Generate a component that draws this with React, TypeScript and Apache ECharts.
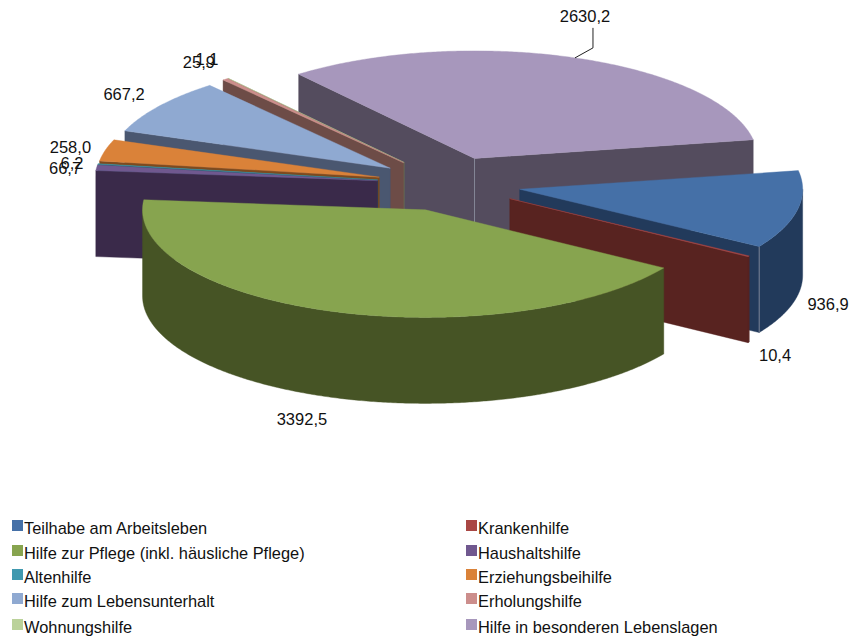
import React, { useEffect, useRef } from "react";
import * as echarts from "echarts";

const categories = [
  "Teilhabe am Arbeitsleben",
  "Krankenhilfe",
  "Hilfe zur Pflege (inkl. häusliche Pflege)",
  "Haushaltshilfe",
  "Altenhilfe",
  "Erziehungsbeihilfe",
  "Hilfe zum Lebensunterhalt",
  "Erholungshilfe",
  "Wohnungshilfe",
  "Hilfe in besonderen Lebenslagen",
];
const values = [936.9, 10.4, 3392.5, 66.7, 6.2, 258.0, 667.2, 25.9, 1.1, 2630.2];
const valueLabels = ["936,9", "10,4", "3392,5", "66,7", "6,2", "258,0", "667,2", "25,9", "1,1", "2630,2"];
const topColors = ["#4570A7", "#A94744", "#87A44F", "#70588F", "#4099AF", "#DA8239", "#8FA9D1", "#CC8E8C", "#BBD29A", "#A797BC"];
const wallColors = ["#223A5B", "#582320", "#465425", "#3A2A4A", "#1F5A68", "#7D4A1F", "#4A5770", "#6D4C47", "#6A7A55", "#544C5E"];

const drawOrder = [9, 8, 7, 6, 5, 4, 3, 0, 1, 2];
const labelOffsets = [[30.7, 94], [26.4, 98.7], [-31.3, 107.5], [-31.5, 0.2], [-25.9, -1], [-34.9, -3.3], [-35.3, -12], [-26.4, -17.2], [-21.2, -19.4], [10, -41.9]];
const legendColumnX = [12, 466];
const legendRowY = [528, 553, 577, 601, 627];

const CX = 449;
const CY = 184;
const RADIUS = 283;
const TILT = 0.38;
const EXPLODE = 72;
const DEPTH = 86;
const FIRST_ANGLE = -10;
const FONT = "'Liberation Sans', Arial, sans-serif";

const total = values.reduce((a, b) => a + b, 0);
const rad = (d: number) => (d * Math.PI) / 180;
const spans = (() => {
  let cur = FIRST_ANGLE;
  return values.map((v) => {
    const start = cur;
    cur += (v / total) * 360;
    return { start, end: cur, mid: (start + cur) / 2 };
  });
})();

function apexOf(i: number) {
  const m = rad(spans[i].mid);
  return [CX + EXPLODE * Math.cos(m), CY + EXPLODE * TILT * Math.sin(m)];
}
function rimPoint(i: number, deg: number, drop = 0) {
  const [ax, ay] = apexOf(i);
  return [ax + RADIUS * Math.cos(rad(deg)), ay + RADIUS * TILT * Math.sin(rad(deg)) + drop];
}
function arcPoints(i: number, from: number, to: number, drop = 0) {
  const n = Math.max(1, Math.ceil(Math.abs(to - from) / 0.5));
  const out: number[][] = [];
  for (let s = 0; s <= n; s++) out.push(rimPoint(i, from + ((to - from) * s) / n, drop));
  return out;
}

function renderSlice(_: any, api: any) {
  const i = api.value(0) as number;
  const { start, end } = spans[i];
  const [ax, ay] = apexOf(i);
  const wall = wallColors[i];
  const children: any[] = [];
  const poly = (points: number[][], fill: string) =>
    children.push({ type: "polygon", shape: { points }, style: { fill, stroke: fill, lineWidth: 0.4 } });
  const edge = (x: number, y: number) =>
    children.push({ type: "line", shape: { x1: x, y1: y, x2: x, y2: y + DEPTH }, style: { stroke: "#8E93A3", lineWidth: 0.8 } });

  const wallAt = (deg: number) => {
    const p = rimPoint(i, deg);
    poly([[ax, ay], p, [p[0], p[1] + DEPTH], [ax, ay + DEPTH]], wall);
  };
  const startVisible = Math.cos(rad(start)) < 0;
  const endVisible = Math.cos(rad(end)) > 0;
  if (startVisible) wallAt(start);
  if (endVisible) wallAt(end);

  // curved outer wall: only the part of the rim that faces the viewer
  const a = Math.max(start, 0);
  const b = Math.min(end, 180);
  if (b > a) poly([...arcPoints(i, a, b), ...arcPoints(i, b, a, DEPTH)], wall);
  if (startVisible && endVisible) edge(ax, ay);
  if (endVisible && end > 0 && end < 180 && end - start > 1) {
    const p = rimPoint(i, end);
    edge(p[0], p[1]);
  }
  poly([[ax, ay], ...arcPoints(i, start, end)], topColors[i]);
  return { type: "group", children };
}

function renderLabel(_: any, api: any) {
  const i = api.value(0) as number;
  const anchor = rimPoint(i, spans[i].mid);
  const [dx, dy] = labelOffsets[i];
  const children: any[] = [];
  if (i === 9) {
    children.push({
      type: "polyline",
      shape: { points: [anchor, [anchor[0] + 18, anchor[1] - 10], [anchor[0] + 18, anchor[1] - 30]] },
      style: { stroke: "#222", lineWidth: 1, fill: "none" },
    });
  }
  children.push({
    type: "text",
    x: anchor[0] + dx,
    y: anchor[1] + dy,
    style: { text: valueLabels[i], fill: "#111", font: `16.5px ${FONT}`, align: "center", verticalAlign: "middle" },
  });
  return { type: "group", children };
}

export default function App() {
  const ref = useRef<HTMLDivElement>(null);
  useEffect(() => {
    const chart = echarts.init(ref.current!, undefined, { renderer: "svg" });
    const legendGraphics: any[] = [];
    categories.forEach((name, i) => {
      const x = legendColumnX[i % 2];
      const y = legendRowY[Math.floor(i / 2)];
      legendGraphics.push({ type: "rect", shape: { x, y: y - 8, width: 11, height: 11 }, style: { fill: topColors[i] } });
      legendGraphics.push({
        type: "text",
        x: x + 12,
        y,
        style: { text: name, fill: "#111", font: `16.4px ${FONT}`, align: "left", verticalAlign: "middle" },
      });
    });
    chart.setOption({
      animation: false,
      backgroundColor: "#fff",
      graphic: legendGraphics,
      series: [
        {
          type: "custom",
          name: "Ausgaben",
          coordinateSystem: "none",
          silent: true,
          renderItem: renderSlice,
          data: drawOrder.map((i) => [i, values[i]]),
          z: 2,
        },
        {
          type: "custom",
          name: "Werte",
          coordinateSystem: "none",
          silent: true,
          renderItem: renderLabel,
          data: drawOrder.map((i) => [i, values[i]]),
          z: 3,
        },
      ],
    });
    return () => chart.dispose();
  }, []);
  return <div ref={ref} style={{ position: "absolute", left: 0, top: 0, width: 854, height: 638 }} />;
}
